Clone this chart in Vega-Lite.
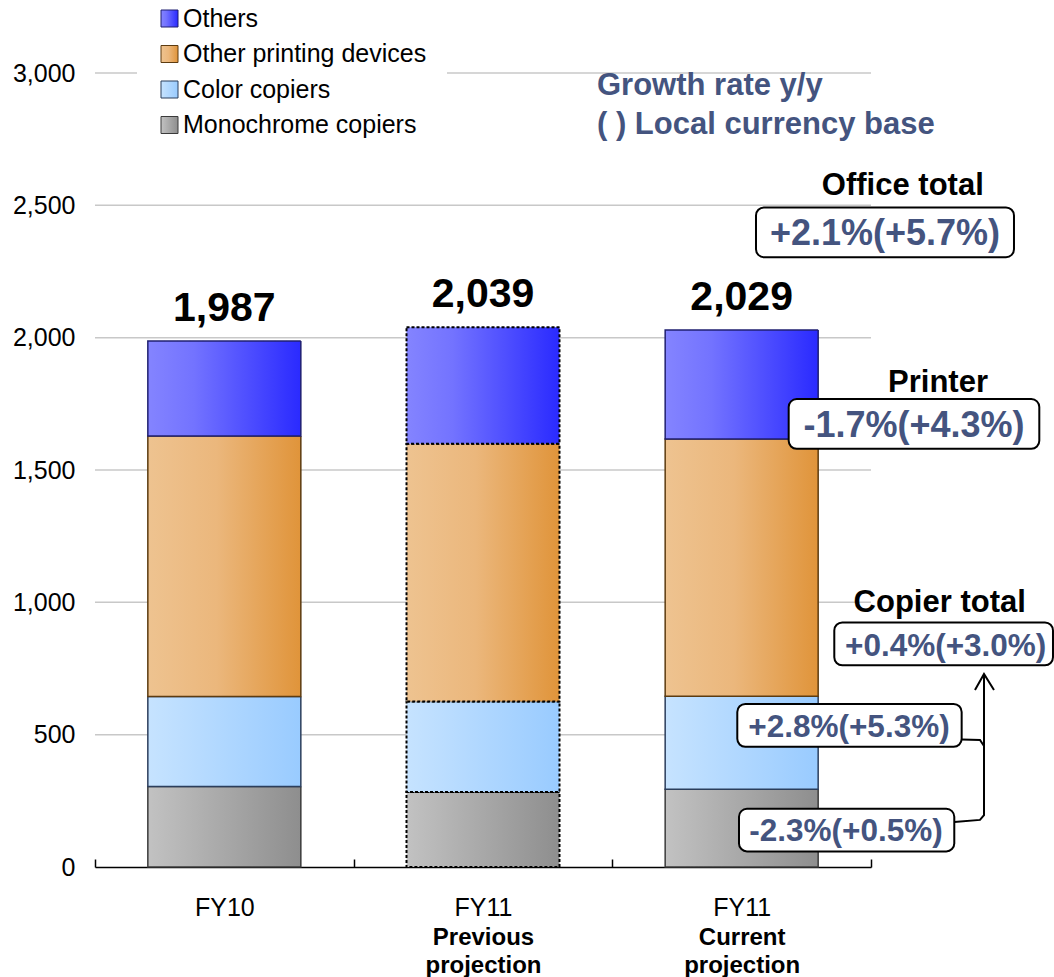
{
  "$schema": "https://vega.github.io/schema/vega-lite/v6.json",
  "width": 959,
  "height": 794,
  "autosize": {"type": "none"},
  "padding": {"left": 95, "top": 73, "right": 0, "bottom": 110},
  "background": "white",
  "config": {
    "font": "Liberation Sans",
    "view": {"stroke": null},
    "axisY": {"labelFontSize": 25, "labelColor": "black", "labelPadding": 20, "ticks": false, "domain": false, "grid": false, "tickCount": 6}
  },
  "datasets": {
    "bars": [
      {"cat": "FY10", "series": "Monochrome copiers", "ord": 1, "value": 304},
      {"cat": "FY10", "series": "Color copiers", "ord": 2, "value": 340},
      {"cat": "FY10", "series": "Other printing devices", "ord": 3, "value": 984},
      {"cat": "FY10", "series": "Others", "ord": 4, "value": 359},
      {"cat": "FY11 Previous", "series": "Monochrome copiers", "ord": 1, "value": 283},
      {"cat": "FY11 Previous", "series": "Color copiers", "ord": 2, "value": 342},
      {"cat": "FY11 Previous", "series": "Other printing devices", "ord": 3, "value": 974},
      {"cat": "FY11 Previous", "series": "Others", "ord": 4, "value": 440},
      {"cat": "FY11 Current", "series": "Monochrome copiers", "ord": 1, "value": 294},
      {"cat": "FY11 Current", "series": "Color copiers", "ord": 2, "value": 351},
      {"cat": "FY11 Current", "series": "Other printing devices", "ord": 3, "value": 972},
      {"cat": "FY11 Current", "series": "Others", "ord": 4, "value": 412}
    ],
    "totals": [
      {"cat": "FY10", "total": 1987, "label": "1,987"},
      {"cat": "FY11 Previous", "total": 2039, "label": "2,039"},
      {"cat": "FY11 Current", "total": 2029, "label": "2,029"}
    ],
    "grid": [{"v": 500}, {"v": 1000}, {"v": 1500}, {"v": 2000}, {"v": 2500}, {"v": 3000}],
    "notes": [
      {"kind": "note", "text": "Growth rate y/y", "x": 1.9407, "y": 2917},
      {"kind": "note", "text": "( ) Local currency base", "x": 1.9407, "y": 2770},
      {"kind": "head", "text": "Office total", "x": 3.123, "y": 2539},
      {"kind": "head", "text": "Printer", "x": 3.259, "y": 1796},
      {"kind": "head", "text": "Copier total", "x": 3.2656, "y": 965},
      {"kind": "big", "text": "+2.1%(+5.7%)", "x": 3.0541, "y": 2350},
      {"kind": "big", "text": "-1.7%(+4.3%)", "x": 3.1662, "y": 1623},
      {"kind": "small", "text": "+0.4%(+3.0%)", "x": 3.2887, "y": 797},
      {"kind": "small", "text": "+2.8%(+5.3%)", "x": 2.9149, "y": 492},
      {"kind": "small", "text": "-2.3%(+0.5%)", "x": 2.9033, "y": 99}
    ],
    "boxes": [
      {"x1": 2.5554, "x2": 3.5528, "y1": 2492, "y2": 2304},
      {"x1": 2.6818, "x2": 3.6507, "y1": 1768, "y2": 1580},
      {"x1": 2.8581, "x2": 3.7036, "y1": 924, "y2": 762},
      {"x1": 2.4831, "x2": 3.3505, "y1": 616, "y2": 454},
      {"x1": 2.4897, "x2": 3.322, "y1": 220, "y2": 59}
    ],
    "links": [
      {"seg": "a", "o": 1, "x": 3.322, "y": 170},
      {"seg": "a", "o": 2, "x": 3.4214, "y": 178},
      {"seg": "a", "o": 3, "x": 3.4369, "y": 196},
      {"seg": "a", "o": 4, "x": 3.4369, "y": 729},
      {"seg": "b", "o": 1, "x": 3.3506, "y": 482},
      {"seg": "b", "o": 2, "x": 3.4214, "y": 480},
      {"seg": "b", "o": 3, "x": 3.4369, "y": 457},
      {"seg": "c", "o": 1, "x": 3.402, "y": 669},
      {"seg": "c", "o": 2, "x": 3.4369, "y": 729},
      {"seg": "c", "o": 3, "x": 3.4755, "y": 669}
    ]
  },
  "resolve": {"scale": {"x": "independent"}, "axis": {"x": "independent"}},
  "layer": [
    {
      "data": {"name": "grid"},
      "mark": {"type": "rule", "color": "#c8c8c8", "strokeWidth": 1.5},
      "encoding": {
        "y": {"field": "v", "type": "quantitative", "scale": {"domain": [0, 3000], "nice": false}, "title": null},
        "x": {"datum": 0, "type": "quantitative", "scale": {"domain": [0, 3.7075], "nice": false, "zero": false}, "axis": null},
        "x2": {"datum": 3}
      }
    },
    {
      "data": {"name": "bars"},
      "mark": {"type": "bar", "width": 153},
      "encoding": {
        "x": {
          "field": "cat", "type": "nominal", "sort": null,
          "scale": {"domain": ["FY10", "FY11 Previous", "FY11 Current"], "range": [0, 776], "paddingInner": 0, "paddingOuter": 0},
          "axis": {"title": null, "orient": "bottom", "labelFontSize": 25, "labelColor": "black", "labelAngle": 0,
            "labelExpr": "datum.value == 'FY10' ? 'FY10' : (datum.value == 'FY11 Previous' || datum.value == 'FY11 Current') ? 'FY11' : ''",
            "domainColor": "black", "domainWidth": 1.5, "tickColor": "black", "tickWidth": 1.5,
            "tickSize": -8, "tickBand": "extent", "labelPadding": 36}
        },
        "y": {"field": "value", "type": "quantitative", "stack": "zero", "scale": {"domain": [0, 3000], "nice": false}, "title": null},
        "order": {"field": "ord", "type": "quantitative"},
        "color": {
          "field": "series", "type": "nominal",
          "scale": {
            "domain": ["Others", "Other printing devices", "Color copiers", "Monochrome copiers"],
            "range": [
              {"expr": "{gradient:'linear',x1:0,y1:0,x2:1,y2:0,stops:[{offset:0,color:'#8484ff'},{offset:0.3,color:'#7373ff'},{offset:1,color:'#2a2aff'}]}"},
              {"expr": "{gradient:'linear',x1:0,y1:0,x2:1,y2:0,stops:[{offset:0,color:'#eec390'},{offset:0.45,color:'#ebb77c'},{offset:1,color:'#e0943a'}]}"},
              {"expr": "{gradient:'linear',x1:0,y1:0,x2:1,y2:0,stops:[{offset:0,color:'#c6e3ff'},{offset:1,color:'#99cbff'}]}"},
              {"expr": "{gradient:'linear',x1:0,y1:0,x2:1,y2:0,stops:[{offset:0,color:'#c2c2c2'},{offset:1,color:'#8e8e8e'}]}"}
            ]
          },
          "legend": {
            "orient": "none", "legendX": 42, "legendY": -87, "title": null,
            "symbolType": "square", "symbolSize": 289, "labelFontSize": 25, "labelColor": "black", "labelLimit": 500,
            "rowPadding": 9.5, "labelOffset": 1, "padding": 20, "fillColor": "white",
            "symbolStrokeColor": "#333333", "symbolStrokeWidth": 1
          }
        },
        "stroke": {
          "condition": {"test": "datum.cat === 'FY11 Previous'", "value": "#000000"},
          "field": "series", "type": "nominal",
          "scale": {"domain": ["Others", "Other printing devices", "Color copiers", "Monochrome copiers"], "range": ["#1f1f70", "#5c3b10", "#2b3e5c", "#3a3a3a"]},
          "legend": null
        },
        "strokeDash": {"condition": {"test": "datum.cat === 'FY11 Previous'", "value": [3, 2]}, "value": [1, 0]},
        "strokeWidth": {"condition": {"test": "datum.cat === 'FY11 Previous'", "value": 2}, "value": 1.5}
      }
    },
    {
      "data": {"name": "totals"},
      "mark": {"type": "text", "fontSize": 41, "fontWeight": "bold", "color": "black", "baseline": "alphabetic", "dy": -20},
      "encoding": {
        "x": {
          "field": "cat", "type": "nominal", "sort": null,
          "scale": {"domain": ["FY10", "FY11 Previous", "FY11 Current"], "range": [0, 776], "paddingInner": 0, "paddingOuter": 0},
          "axis": {"title": null, "orient": "bottom", "labelFontSize": 24, "labelFontWeight": "bold", "labelColor": "black", "labelAngle": 0,
            "labelExpr": "datum.value == 'FY11 Previous' ? ['Previous', 'projection'] : datum.value == 'FY11 Current' ? ['Current', 'projection'] : ''",
            "labelLineHeight": 28, "ticks": false, "domain": false, "labelPadding": 58}
        },
        "y": {"field": "total", "type": "quantitative", "scale": {"domain": [0, 3000], "nice": false}, "title": null},
        "text": {"field": "label", "type": "nominal"}
      }
    },
    {
      "data": {"name": "boxes"},
      "mark": {"type": "rect", "fill": "white", "stroke": "black", "strokeWidth": 2, "cornerRadius": 8},
      "encoding": {
        "x": {"field": "x1", "type": "quantitative", "scale": {"domain": [0, 3.7075], "nice": false, "zero": false}, "axis": null},
        "x2": {"field": "x2"},
        "y": {"field": "y1", "type": "quantitative", "scale": {"domain": [0, 3000], "nice": false}, "title": null},
        "y2": {"field": "y2"}
      }
    },
    {
      "data": {"name": "links"},
      "mark": {"type": "line", "color": "black", "strokeWidth": 2},
      "encoding": {
        "x": {"field": "x", "type": "quantitative", "scale": {"domain": [0, 3.7075], "nice": false, "zero": false}, "axis": null},
        "y": {"field": "y", "type": "quantitative", "scale": {"domain": [0, 3000], "nice": false}, "title": null},
        "detail": {"field": "seg", "type": "nominal"},
        "order": {"field": "o", "type": "quantitative"}
      }
    },
    {
      "data": {"name": "notes"},
      "transform": [{"filter": "datum.kind == 'note'"}],
      "mark": {"type": "text", "fontSize": 31, "fontWeight": "bold", "color": "#44547f", "align": "left", "baseline": "alphabetic"},
      "encoding": {
        "x": {"field": "x", "type": "quantitative", "scale": {"domain": [0, 3.7075], "nice": false, "zero": false}, "axis": null},
        "y": {"field": "y", "type": "quantitative", "scale": {"domain": [0, 3000], "nice": false}, "title": null},
        "text": {"field": "text", "type": "nominal"}
      }
    },
    {
      "data": {"name": "notes"},
      "transform": [{"filter": "datum.kind == 'head'"}],
      "mark": {"type": "text", "fontSize": 31, "fontWeight": "bold", "color": "black", "align": "center", "baseline": "alphabetic"},
      "encoding": {
        "x": {"field": "x", "type": "quantitative", "scale": {"domain": [0, 3.7075], "nice": false, "zero": false}, "axis": null},
        "y": {"field": "y", "type": "quantitative", "scale": {"domain": [0, 3000], "nice": false}, "title": null},
        "text": {"field": "text", "type": "nominal"}
      }
    },
    {
      "data": {"name": "notes"},
      "transform": [{"filter": "datum.kind == 'big'"}],
      "mark": {"type": "text", "fontSize": 36, "fontWeight": "bold", "color": "#44547f", "align": "center", "baseline": "alphabetic"},
      "encoding": {
        "x": {"field": "x", "type": "quantitative", "scale": {"domain": [0, 3.7075], "nice": false, "zero": false}, "axis": null},
        "y": {"field": "y", "type": "quantitative", "scale": {"domain": [0, 3000], "nice": false}, "title": null},
        "text": {"field": "text", "type": "nominal"}
      }
    },
    {
      "data": {"name": "notes"},
      "transform": [{"filter": "datum.kind == 'small'"}],
      "mark": {"type": "text", "fontSize": 31.5, "fontWeight": "bold", "color": "#44547f", "align": "center", "baseline": "alphabetic"},
      "encoding": {
        "x": {"field": "x", "type": "quantitative", "scale": {"domain": [0, 3.7075], "nice": false, "zero": false}, "axis": null},
        "y": {"field": "y", "type": "quantitative", "scale": {"domain": [0, 3000], "nice": false}, "title": null},
        "text": {"field": "text", "type": "nominal"}
      }
    }
  ]
}
